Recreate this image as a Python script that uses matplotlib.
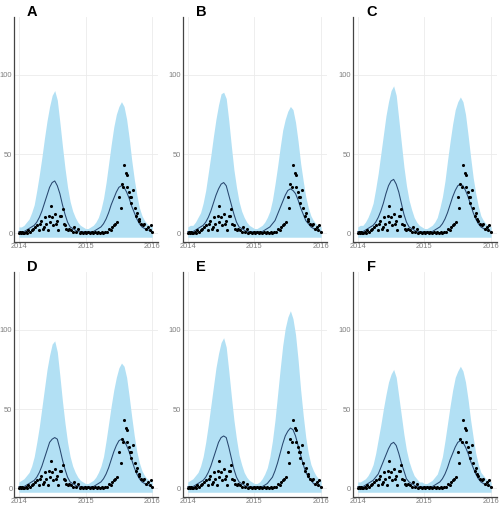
# Six panels: predicted band, mean line and observed weekly counts, 2014-2016

import numpy as np
from matplotlib import pyplot as plt

plt.rcParams['font.family'] = ['Liberation Sans', 'DejaVu Sans']

# observed counts (shared by all panels), time in decimal years
obs_t = [2014.000, 2014.015, 2014.031, 2014.046, 2014.066, 2014.082, 2014.102, 2014.123,
         2014.143, 2014.169, 2014.194, 2014.220, 2014.246, 2014.271, 2014.297, 2014.322,
         2014.338, 2014.358, 2014.373, 2014.399, 2014.414, 2014.435, 2014.450, 2014.465,
         2014.476, 2014.501, 2014.517, 2014.542, 2014.558, 2014.578, 2014.588, 2014.619,
         2014.629, 2014.655, 2014.670, 2014.690, 2014.706, 2014.731, 2014.757, 2014.783,
         2014.808, 2014.834, 2014.859, 2014.885, 2014.910, 2014.936, 2014.962, 2014.987,
         2015.013, 2015.038, 2015.064, 2015.090, 2015.115, 2015.140, 2015.166, 2015.192,
         2015.217, 2015.243, 2015.269, 2015.294, 2015.320, 2015.355, 2015.376, 2015.396,
         2015.422, 2015.448, 2015.473, 2015.499, 2015.524, 2015.540, 2015.560, 2015.575,
         2015.601, 2015.616, 2015.627, 2015.652, 2015.668, 2015.678, 2015.688, 2015.714,
         2015.734, 2015.754, 2015.770, 2015.795, 2015.806, 2015.831, 2015.857, 2015.882,
         2015.908, 2015.934, 2015.959, 2015.974, 2016.000]
obs_y = [0, 1, 0, 1, 0, 0, 1, 0,
         2, 1, 2, 3, 4, 5, 2, 6,
         8, 3, 4, 10, 6, 2, 11, 7,
         17, 10, 5, 12, 6, 8, 2, 11,
         11, 15, 6, 5, 3, 2, 3, 2,
         1, 4, 1, 3, 0, 1, 0, 1,
         0, 1, 0, 1, 0, 1, 0, 1,
         0, 1, 0, 1, 1, 3, 2, 4,
         5, 6, 7, 23, 16, 31, 29, 43,
         38, 37, 29, 26, 23, 23, 19, 27,
         16, 11, 13, 9, 8, 6, 5, 6,
         3, 4, 2, 5, 1]

# model output every two weeks
weeks = np.arange(53)
model_t = 2014 + weeks / 26
band_floor = -2.5

upper = {
    'A': [4, 4, 5, 7, 9, 13, 18, 27, 37, 48, 60, 71, 80, 87, 90, 84, 70, 55, 41, 29, 20, 14, 10, 7, 5, 4, 3,
          3, 4, 5, 7, 10, 15, 22, 32, 44, 56, 67, 75, 80, 83, 80, 72, 60, 46, 34, 24, 16, 11, 8, 6, 5, 4],
    'B': [4, 5, 5, 7, 10, 13, 19, 27, 38, 49, 61, 72, 81, 88, 89, 85, 71, 55, 40, 29, 20, 14, 10, 7, 5, 4, 3,
          3, 4, 5, 7, 10, 14, 21, 31, 42, 54, 65, 72, 77, 80, 78, 70, 58, 44, 33, 23, 16, 11, 8, 6, 5, 4],
    'C': [4, 5, 5, 7, 10, 14, 19, 28, 38, 50, 62, 74, 83, 90, 93, 87, 72, 57, 42, 30, 21, 15, 10, 7, 5, 4, 3,
          3, 4, 5, 7, 10, 16, 23, 33, 46, 58, 69, 78, 83, 86, 83, 75, 62, 48, 35, 25, 17, 11, 8, 6, 5, 4],
    'D': [4, 5, 6, 8, 10, 14, 20, 29, 39, 51, 63, 75, 84, 91, 93, 86, 71, 55, 41, 29, 20, 14, 10, 7, 5, 4, 3,
          3, 4, 5, 7, 10, 14, 20, 30, 41, 52, 62, 70, 76, 79, 77, 70, 58, 45, 33, 23, 16, 11, 8, 6, 5, 4],
    'E': [4, 5, 6, 8, 10, 14, 20, 29, 40, 52, 64, 76, 85, 92, 95, 89, 74, 58, 43, 31, 21, 15, 10, 7, 5, 4, 3,
          3, 4, 6, 9, 13, 20, 30, 43, 59, 75, 90, 101, 108, 112, 107, 97, 81, 62, 46, 32, 22, 15, 11, 8, 6, 5],
    'F': [4, 4, 5, 6, 8, 11, 15, 22, 31, 40, 50, 59, 67, 72, 75, 70, 58, 46, 34, 24, 17, 12, 8, 6, 4, 4, 3,
          3, 4, 5, 7, 9, 14, 20, 30, 41, 52, 62, 70, 74, 77, 74, 67, 56, 43, 32, 22, 15, 10, 8, 6, 5, 4],
}

mean = {
    'A': [1, 1, 1, 2, 3, 4, 5, 7, 10, 14, 19, 24, 29, 32, 33, 30, 25, 18, 12, 7, 4, 3, 2, 1, 1, 1, 1,
          1, 1, 1, 2, 3, 4, 6, 9, 13, 18, 22, 26, 29, 30, 29, 26, 22, 17, 13, 9, 6, 4, 3, 2, 2, 1],
    'B': [1, 1, 1, 2, 3, 4, 5, 7, 10, 14, 19, 24, 28, 31, 32, 30, 24, 18, 12, 7, 4, 3, 2, 1, 1, 1, 1,
          1, 1, 1, 2, 3, 4, 6, 8, 12, 16, 20, 24, 27, 28, 27, 25, 21, 16, 12, 8, 6, 4, 3, 2, 2, 1],
    'C': [1, 1, 1, 2, 3, 4, 5, 7, 10, 14, 19, 25, 30, 33, 34, 31, 26, 19, 12, 7, 4, 3, 2, 1, 1, 1, 1,
          1, 1, 1, 2, 3, 4, 6, 9, 13, 18, 23, 27, 30, 31, 30, 27, 23, 18, 13, 9, 6, 4, 3, 2, 2, 1],
    'D': [1, 1, 1, 2, 3, 4, 5, 7, 10, 14, 19, 24, 29, 31, 32, 31, 25, 18, 12, 7, 4, 3, 2, 1, 1, 1, 1,
          1, 1, 1, 2, 3, 4, 6, 9, 13, 18, 23, 27, 30, 31, 30, 27, 23, 18, 13, 9, 6, 4, 3, 2, 2, 1],
    'E': [1, 1, 1, 2, 3, 4, 5, 7, 10, 14, 19, 24, 29, 32, 33, 32, 26, 19, 12, 7, 4, 3, 2, 1, 1, 1, 1,
          1, 1, 1, 2, 3, 5, 7, 11, 16, 22, 28, 33, 36, 38, 37, 33, 27, 21, 15, 10, 7, 5, 3, 2, 2, 1],
    'F': [1, 1, 1, 2, 3, 4, 5, 7, 9, 13, 17, 21, 25, 28, 29, 27, 22, 16, 11, 6, 4, 3, 2, 1, 1, 1, 1,
          1, 1, 1, 2, 3, 4, 6, 9, 13, 18, 22, 26, 29, 30, 29, 26, 22, 17, 13, 9, 6, 4, 3, 2, 2, 1],
}

panels = ['A', 'B', 'C', 'D', 'E', 'F']
x_ticks = [2014, 2015, 2016]
y_ticks = [0, 50, 100]

fig = plt.figure(figsize=(5.02, 5.07), dpi=100)

lefts = [0.0275, 0.364, 0.7026]
bottoms = [0.5227, 0.0197]
w, h = 0.287, 0.444

for i, name in enumerate(panels):
    row, col = divmod(i, 3)
    ax = fig.add_axes([lefts[col], bottoms[row], w, h])
    ax.fill_between(model_t, band_floor, upper[name], color='#b2e0f4', lw=0, zorder=1)
    ax.plot(model_t, mean[name], color='#27466e', lw=0.75, zorder=3)
    ax.scatter(obs_t, obs_y, s=5, color='black', lw=0, zorder=4)

    ax.set_xlim(2013.925, 2016.084)
    ax.set_ylim(-5.5, 136.5)
    ax.set_xticks(x_ticks)
    ax.set_yticks(y_ticks)
    ax.grid(color='#ebebeb', lw=0.6, zorder=0)
    ax.set_axisbelow(True)
    ax.tick_params(length=0, labelsize=5.4, colors='#7f7f7f', pad=1)
    for s in ['top', 'right']:
        ax.spines[s].set_visible(False)
    for s in ['left', 'bottom']:
        ax.spines[s].set_color('#444444')
        ax.spines[s].set_linewidth(0.9)

    fig.text(lefts[col] + 0.037, bottoms[row] + h + 0.009, name,
             fontsize=10.5, fontweight='bold', ha='center', va='center')

fig.savefig('out.png', dpi=100)
